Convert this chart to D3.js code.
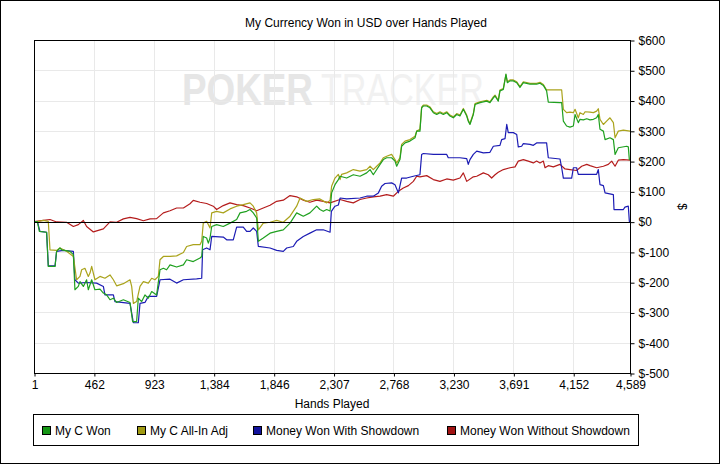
<!DOCTYPE html>
<html>
<head>
<meta charset="utf-8">
<title>currency won</title>
<script src="https://cdnjs.cloudflare.com/ajax/libs/d3/7.8.5/d3.min.js"></script>
<style>
  body { margin: 0; background: #fff; }
  text { font-family: "Liberation Sans", Arial, sans-serif; }
</style>
</head>
<body>
<script>
// data: [hand number, cumulative USD]
var wonPts = [[1,0],[27,0],[42,-32],[98,-35],[111,-148],[163,-148],[175,-98],[201,-87],[214,-93],[278,-98],[304,-109],[316,-225],[342,-214],[355,-198],[381,-214],[406,-192],[419,-225],[445,-192],[470,-225],[509,-223],[535,-236],[560,-242],[586,-258],[612,-253],[637,-267],[689,-258],[740,-267],[760,-330],[791,-330],[804,-253],[830,-264],[855,-242],[881,-253],[907,-231],[945,-242],[971,-159],[997,-154],[1022,-159],[1048,-143],[1099,-150],[1151,-143],[1176,-126],[1227,-132],[1279,-120],[1292,-115],[1304,-49],[1330,-54],[1343,-71],[1356,-54],[1369,-16],[1407,-10],[1458,-16],[1510,-5],[1561,7],[1587,29],[1638,34],[1664,40],[1689,29],[1715,12],[1728,-65],[1766,-54],[1818,-38],[1869,-32],[1920,-27],[1972,-5],[2023,29],[2074,18],[2125,29],[2177,51],[2202,40],[2228,34],[2254,40],[2280,35],[2292,95],[2318,122],[2344,139],[2357,150],[2408,144],[2459,155],[2511,150],[2562,161],[2588,172],[2613,155],[2665,189],[2690,205],[2716,211],[2754,211],[2780,200],[2793,183],[2818,205],[2831,249],[2857,260],[2895,266],[2934,277],[2947,299],[2972,299],[2985,376],[2998,382],[3024,382],[3049,376],[3075,360],[3101,354],[3126,360],[3152,354],[3178,360],[3203,349],[3229,343],[3255,354],[3280,349],[3306,371],[3332,349],[3344,332],[3357,321],[3383,354],[3396,387],[3434,393],[3486,398],[3511,393],[3537,409],[3550,415],[3575,398],[3588,432],[3614,437],[3634,487],[3645,459],[3665,465],[3691,465],[3717,459],[3742,443],[3768,459],[3819,454],[3870,454],[3896,457],[3922,450],[3947,432],[3960,395],[4050,393],[4063,393],[4076,332],[4101,316],[4127,312],[4153,316],[4166,354],[4191,327],[4204,338],[4230,336],[4256,340],[4281,336],[4307,338],[4332,343],[4345,354],[4358,305],[4384,299],[4397,271],[4435,277],[4461,271],[4474,222],[4499,244],[4563,249],[4576,247],[4584,205],[4589,205]];

var allInPts = [[1,0],[27,0],[73,4],[111,1],[124,-93],[175,-95],[201,-87],[252,-98],[304,-115],[329,-192],[355,-181],[368,-159],[393,-154],[419,-181],[432,-170],[445,-148],[470,-192],[509,-181],[547,-187],[586,-176],[612,-192],[637,-212],[689,-205],[740,-192],[753,-214],[766,-270],[791,-264],[817,-214],[843,-198],[881,-203],[907,-187],[932,-192],[958,-181],[971,-126],[997,-115],[1048,-115],[1099,-113],[1151,-102],[1176,-82],[1227,-76],[1279,-76],[1292,-65],[1304,-5],[1330,1],[1356,-21],[1369,29],[1407,34],[1458,29],[1510,42],[1561,51],[1612,56],[1664,62],[1689,51],[1715,29],[1728,-27],[1766,-5],[1818,-2],[1869,4],[1920,-2],[1972,18],[2023,51],[2049,78],[2100,67],[2151,73],[2202,75],[2254,62],[2280,70],[2292,117],[2318,144],[2344,156],[2357,139],[2369,156],[2408,161],[2459,172],[2511,167],[2562,172],[2588,183],[2613,172],[2639,183],[2665,194],[2690,211],[2716,216],[2754,222],[2780,205],[2793,194],[2818,211],[2831,255],[2857,266],[2895,271],[2934,282],[2947,299],[2972,305],[2985,378],[2998,385],[3024,385],[3049,379],[3075,363],[3101,357],[3126,363],[3152,357],[3178,363],[3203,352],[3229,346],[3255,357],[3280,352],[3306,374],[3332,352],[3344,335],[3357,324],[3383,357],[3396,390],[3434,396],[3486,401],[3511,396],[3537,412],[3550,418],[3575,401],[3588,435],[3614,440],[3634,485],[3645,462],[3665,468],[3691,468],[3717,462],[3742,446],[3768,462],[3819,457],[3870,457],[3896,460],[3922,453],[3947,435],[3960,435],[4063,435],[4076,371],[4101,360],[4127,362],[4153,360],[4166,371],[4191,343],[4204,360],[4230,354],[4243,363],[4281,362],[4307,360],[4332,365],[4345,373],[4358,338],[4384,321],[4409,332],[4435,343],[4461,327],[4474,277],[4499,299],[4538,302],[4589,299]];

var showdownPts = [[1,0],[27,0],[47,-32],[98,-35],[111,-146],[163,-146],[175,-98],[227,-95],[304,-98],[316,-192],[342,-203],[406,-201],[483,-203],[535,-214],[547,-242],[612,-242],[624,-264],[740,-270],[766,-334],[804,-334],[817,-270],[855,-267],[881,-247],[945,-247],[971,-192],[1048,-190],[1099,-203],[1151,-192],[1253,-189],[1292,-187],[1299,-93],[1330,-87],[1356,-93],[1369,-49],[1458,-51],[1484,-60],[1535,-60],[1561,-18],[1612,-18],[1638,-32],[1664,-32],[1689,-21],[1715,-32],[1728,-82],[1818,-87],[1869,-95],[1920,-98],[1946,-87],[1997,-82],[2023,-65],[2074,-49],[2125,-38],[2177,-27],[2228,-27],[2280,-35],[2290,34],[2318,51],[2344,55],[2357,78],[2408,75],[2511,78],[2562,84],[2613,84],[2652,95],[2677,117],[2703,126],[2754,128],[2780,122],[2806,95],[2831,144],[2870,144],[2921,150],[2972,155],[2985,222],[2998,225],[3075,222],[3178,222],[3190,211],[3280,211],[3332,208],[3344,189],[3357,205],[3383,222],[3409,233],[3460,227],[3511,229],[3537,249],[3588,252],[3601,271],[3627,274],[3640,321],[3652,294],[3691,294],[3717,288],[3729,247],[3755,249],[3768,258],[3819,255],[3845,252],[3870,260],[3947,260],[3960,211],[4050,207],[4063,178],[4076,144],[4140,144],[4153,178],[4178,178],[4191,156],[4332,156],[4345,172],[4358,122],[4384,119],[4397,95],[4461,89],[4466,40],[4538,40],[4550,48],[4576,51],[4584,1],[4589,0]];

var noShowdownPts = [[1,0],[73,4],[124,7],[175,-1],[252,-2],[304,-16],[342,-10],[381,4],[406,-16],[458,-34],[509,-27],[535,-24],[586,-1],[637,-2],[689,9],[740,14],[791,10],[843,3],[894,9],[945,10],[997,29],[1048,36],[1099,45],[1151,45],[1202,59],[1227,70],[1279,64],[1330,60],[1381,51],[1407,40],[1458,53],[1510,62],[1561,56],[1612,53],[1664,45],[1715,36],[1766,45],[1818,54],[1869,67],[1920,71],[1972,86],[2023,82],[2074,71],[2125,64],[2177,71],[2228,67],[2280,62],[2357,73],[2408,67],[2459,62],[2511,73],[2562,78],[2613,82],[2665,84],[2716,89],[2767,84],[2806,100],[2844,111],[2883,119],[2921,133],[2947,150],[2972,148],[3024,152],[3075,139],[3126,133],[3178,141],[3229,137],[3280,144],[3306,161],[3332,133],[3383,148],[3409,150],[3460,161],[3498,155],[3524,144],[3550,155],[3575,163],[3614,172],[3665,178],[3704,181],[3729,200],[3768,205],[3806,200],[3845,194],[3870,200],[3896,194],[3922,200],[3935,178],[3960,185],[3999,181],[4050,189],[4089,174],[4127,172],[4178,169],[4217,183],[4256,189],[4281,185],[4332,178],[4384,183],[4422,189],[4448,200],[4474,183],[4499,203],[4538,205],[4589,203]];

var seriesNames = ["My C Won", "My C All-In Adj", "Money Won With Showdown", "Money Won Without Showdown"];
var handTicks = [1, 462, 923, 1384, 1846, 2307, 2768, 3230, 3691, 4152, 4589];
var dollarTicks = [-500, -400, -300, -200, -100, 0, 100, 200, 300, 400, 500, 600];

var W = 720, H = 464;
var plot = {left: 34, right: 630, top: 40, bottom: 373};
var colors = {"My C Won": "#1fa01f", "My C All-In Adj": "#aaa31c",
              "Money Won With Showdown": "#1c1cb4", "Money Won Without Showdown": "#b41c1c"};
var swatch = {"My C Won": "#159615", "My C All-In Adj": "#a09a12",
              "Money Won With Showdown": "#12129c", "Money Won Without Showdown": "#a01212"};

var svg = d3.select("body").append("svg")
    .attr("width", W).attr("height", H);

//white background and outer border
svg.append("rect").attr("x", 0.5).attr("y", 0.5)
   .attr("width", W - 1).attr("height", H - 1)
   .attr("fill", "#fff").attr("stroke", "#000");

var x = d3.scaleLinear().domain([1, 4589]).range([plot.left, plot.right]);
var y = d3.scaleLinear().domain([-500, 600]).range([plot.bottom, plot.top]);

//title
svg.append("text")
   .attr("x", 366).attr("y", 27)
   .attr("text-anchor", "middle")
   .attr("font-size", 12)
   .text("My Currency Won in USD over Hands Played");

//watermark: each word squeezed to its width with a transform
function watermarkWord(word, left, width, bold, fill){
    var t = svg.append("text")
       .attr("font-family", "'Open Sans', sans-serif").attr("font-size", 44)
       .attr("font-weight", bold ? "bold" : "normal")
       .attr("fill", fill)
       .text(word);
    var natural = t.node().getComputedTextLength();
    t.attr("transform", "translate(" + left + ",105) scale(" + (width / natural) + ",1)");
}
watermarkWord("POKER", 182, 131, true, "#e6e6e6");
watermarkWord("TRACKER", 321, 163, false, "#f1f1f1");

//grid
svg.append("g").selectAll("line.vg")
   .data(handTicks).enter().append("line")
   .attr("x1", function(d){ return Math.round(x(d)) + 0.5; })
   .attr("x2", function(d){ return Math.round(x(d)) + 0.5; })
   .attr("y1", plot.top).attr("y2", plot.bottom)
   .attr("stroke", "#e9e9e9");
svg.append("g").selectAll("line.hg")
   .data(dollarTicks).enter().append("line")
   .attr("x1", plot.left).attr("x2", plot.right)
   .attr("y1", function(d){ return Math.round(y(d)) + 0.5; })
   .attr("y2", function(d){ return Math.round(y(d)) + 0.5; })
   .attr("stroke", "#e9e9e9");

//series lines, drawn red first so green ends on top
var line = d3.line()
    .x(function(d){ return x(d[0]); })
    .y(function(d){ return y(d[1]); });

var drawOrder = [[noShowdownPts, seriesNames[3]], [showdownPts, seriesNames[2]],
                 [allInPts, seriesNames[1]], [wonPts, seriesNames[0]]];
svg.append("g").selectAll("path")
   .data(drawOrder).enter().append("path")
   .attr("d", function(d){ return line(d[0]); })
   .attr("fill", "none")
   .attr("stroke", function(d){ return colors[d[1]]; })
   .attr("stroke-width", 1.2)
   .attr("stroke-linejoin", "round");

//zero line
svg.append("line")
   .attr("x1", plot.left).attr("x2", plot.right)
   .attr("y1", Math.round(y(0)) + 0.5).attr("y2", Math.round(y(0)) + 0.5)
   .attr("stroke", "#000");

//plot frame
svg.append("rect")
   .attr("x", plot.left + 0.5).attr("y", plot.top + 0.5)
   .attr("width", plot.right - plot.left).attr("height", plot.bottom - plot.top)
   .attr("fill", "none").attr("stroke", "#000");

//axes
var xAxis = svg.append("g")
   .attr("transform", "translate(0.5," + (plot.bottom + 0.5) + ")")
   .call(d3.axisBottom(x).tickValues(handTicks).tickSize(3).tickPadding(4)
         .tickFormat(d3.format(",")));
var yAxis = svg.append("g")
   .attr("transform", "translate(" + (plot.right + 0.5) + ",0.5)")
   .call(d3.axisRight(y).tickValues(dollarTicks).tickSize(4).tickPadding(4)
         .tickFormat(function(d){ return "$" + d; }));
[xAxis, yAxis].forEach(function(a){
    a.select(".domain").remove();
    a.selectAll("text").attr("font-size", 12).attr("fill", "#000")
     .attr("font-family", "'Liberation Sans', Arial, sans-serif");
    a.selectAll("line").attr("stroke", "#000");
});

//axis titles
svg.append("text")
   .attr("x", (plot.left + plot.right) / 2).attr("y", 408)
   .attr("text-anchor", "middle").attr("font-size", 12)
   .text("Hands Played");
svg.append("text")
   .attr("transform", "translate(678," + ((plot.top + plot.bottom) / 2) + ") rotate(90)")
   .attr("text-anchor", "middle").attr("font-size", 12)
   .text("$");

//legend
var legend = svg.append("g");
legend.append("rect")
   .attr("x", 33.5).attr("y", 414.5).attr("width", 605).attr("height", 31)
   .attr("fill", "#fff").attr("stroke", "#000");
var legX = [42, 137, 253, 447];
var items = legend.selectAll("g.item")
   .data(seriesNames).enter().append("g")
   .attr("transform", function(d, i){ return "translate(" + legX[i] + ",426)"; });
items.append("rect")
   .attr("x", 0.5).attr("y", 0.5).attr("width", 8).attr("height", 8)
   .attr("fill", function(d){ return swatch[d]; })
   .attr("stroke", "#000");
items.append("text")
   .attr("x", 13).attr("y", 9)
   .attr("font-size", 12)
   .text(function(d){ return d; });
</script>
</body>
</html>
